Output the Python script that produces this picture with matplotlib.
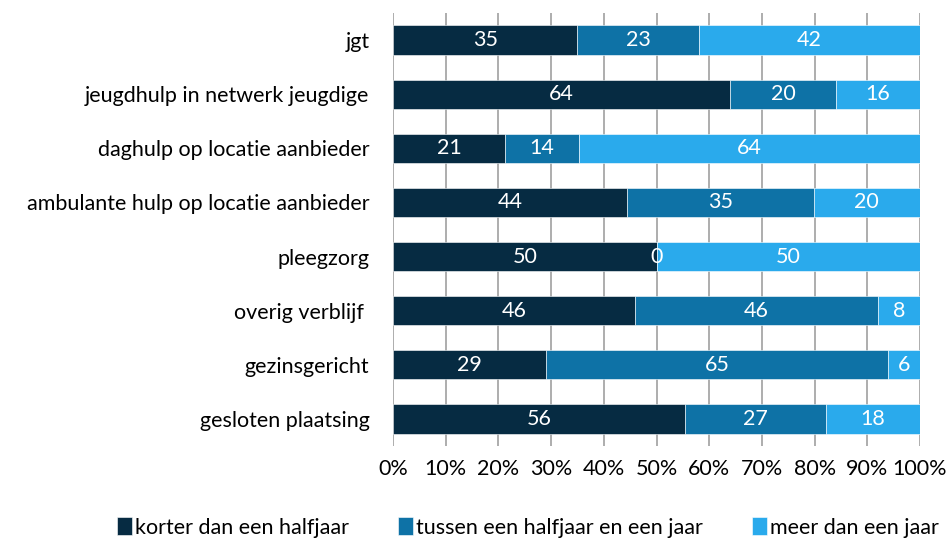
import matplotlib
matplotlib.use("Agg")
import matplotlib.pyplot as plt
import numpy as np

categories = ["jgt", "jeugdhulp in netwerk jeugdige", "daghulp op locatie aanbieder",
              "ambulante hulp op locatie aanbieder", "pleegzorg", "overig verblijf ",
              "gezinsgericht", "gesloten plaatsing"]
series_names = ["korter dan een halfjaar", "tussen een halfjaar en een jaar", "meer dan een jaar"]
korter = [35, 64, 21, 44, 50, 46, 29, 56]
tussen = [23, 20, 14, 35, 0, 46, 65, 27]
meer = [42, 16, 64, 20, 50, 8, 6, 18]
x_ticks = [0, 10, 20, 30, 40, 50, 60, 70, 80, 90, 100]
colors = ["#062b42", "#0e72a6", "#2aaaec"]

plt.rcParams['font.family'] = ['Lato', 'DejaVu Sans']
FS = 15.5

fig = plt.figure(figsize=(9.48, 5.41), dpi=100)
ax = fig.add_axes([0.4146, 0.1756, 0.5559, 0.8004])

data = np.array([korter, tussen, meer], dtype=float)
totals = data.sum(axis=0)
pct = data / totals * 100
y = np.arange(len(categories))
left = np.zeros(len(categories))
for i, name in enumerate(series_names):
    bars = ax.barh(y, pct[i], left=left, height=0.54, color=colors[i],
                   edgecolor="white", linewidth=0.4, label=name, zorder=3)
    for j, b in enumerate(bars):
        ax.text(left[j] + pct[i][j] / 2, y[j], f"{int(data[i][j])}", ha="center",
                va="center", color="white", fontsize=FS, zorder=4)
    left += pct[i]

ax.set_xlim(0, 100)
ax.set_ylim(len(categories) - 0.5, -0.5)
ax.set_yticks(y)
ax.set_yticklabels(categories, fontsize=FS)
ax.set_xticks(x_ticks)
ax.set_xticklabels([f"{t}%" for t in x_ticks], fontsize=FS)
ax.tick_params(axis="x", length=0, pad=9)
ax.tick_params(axis="y", length=0, pad=17)
ax.grid(axis="x", color="#a0a0a0", linewidth=1.2, zorder=0)
for s in ax.spines.values():
    s.set_visible(False)

fig.legend(loc="lower center", bbox_to_anchor=(0.557, -0.03), ncol=3, frameon=False,
           fontsize=FS, handlelength=0.7, handleheight=0.9, handletextpad=0.12,
           columnspacing=2.3)

fig.savefig("out.png", dpi=100)
